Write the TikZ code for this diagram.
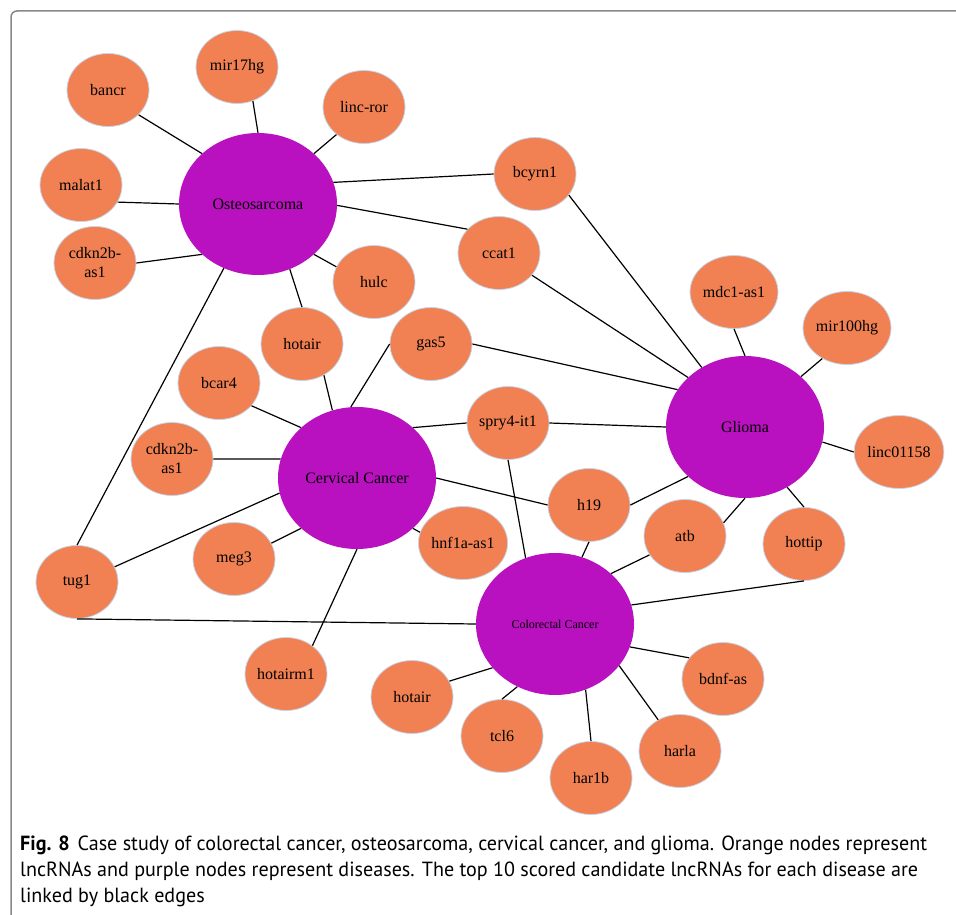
\documentclass[tikz,border=0pt]{standalone}
\usepackage{fontspec}
\setmainfont{Liberation Serif}
\newfontfamily\capfont[FakeStretch=0.98]{PT Sans}
\usetikzlibrary{shapes.geometric}

\definecolor{lncorange}{RGB}{241,128,82}
\definecolor{diseasepurple}{RGB}{185,17,192}
\definecolor{rimblue}{RGB}{198,214,232}
\definecolor{framegray}{RGB}{136,136,136}

\begin{document}
\begin{tikzpicture}[x=1pt, y=-1pt,
    lnc/.style={ellipse, fill=lncorange, draw=rimblue, line width=0.8pt,
        minimum width=82pt, minimum height=73pt, inner sep=0pt, align=center,
        font=\fontsize{16}{19}\selectfont},
    disease/.style={ellipse, fill=diseasepurple, minimum width=158pt,
        minimum height=142pt, inner sep=0pt, font=\fontsize{16}{19}\selectfont},
    link/.style={line width=1.2pt},
    capline/.style={anchor=base west, inner sep=0pt,
        font=\capfont\fontsize{20.5}{24}\selectfont}]

    % Fix the page to the size of the figure
    \clip (0,0) rectangle (956,915);
    \fill[white] (0,0) rectangle (956,915);

    % Draw the frame of the figure
    \draw[framegray, line width=1.5pt, rounded corners=6pt] (11,11) rectangle (980,940);

    % Draw the disease nodes
    \node[disease] (osteo) at (258,204) {Osteosarcoma};
    \node[disease] (cervical) at (357,478) {Cervical Cancer};
    \node[disease] (glioma) at (745,427) {Glioma};
    \node[disease, font=\fontsize{12}{14}\selectfont] (colorectal) at (555,624) {Colorectal Cancer};

    % Draw the lncRNA nodes
    \node[lnc] (bancr) at (108,90) {bancr};
    \node[lnc] (mir17hg) at (237,67) {mir17hg};
    \node[lnc] (lincror) at (364,107) {linc-ror};
    \node[lnc] (malat1) at (81,185) {malat1};
    \node[lnc] (cdkntop) at (95,263) {cdkn2b-\\as1};
    \node[lnc] (hulc) at (374,282) {hulc};
    \node[lnc] (hotairtop) at (302,344) {hotair};
    \node[lnc] (gas5) at (431,344) {gas5};
    \node[lnc] (bcar4) at (219,383) {bcar4};
    \node[lnc] (bcyrn1) at (535,174) {bcyrn1};
    \node[lnc] (ccat1) at (499,253) {ccat1};
    \node[lnc] (mdcas) at (734,292) {mdc1-as1};
    \node[lnc] (mir100hg) at (847,328) {mir100hg};
    \node[lnc] (cdknlow) at (172,459) {cdkn2b-\\as1};
    \node[lnc] (tug1) at (77,582) {tug1};
    \node[lnc] (meg3) at (234,559) {meg3};
    \node[lnc] (hnfas) at (463,543) {hnf1a-as1};
    \node[lnc] (hotairm1) at (286,674) {hotairm1};
    \node[lnc] (hotairlow) at (412,697) {hotair};
    \node[lnc] (spry) at (508,423) {spry4-it1};
    \node[lnc] (linc) at (899,452) {linc01158};
    \node[lnc] (h19) at (589,505) {h19};
    \node[lnc] (atb) at (685,536) {atb};
    \node[lnc] (hottip) at (804,544) {hottip};
    \node[lnc] (bdnfas) at (723,679) {bdnf-as};
    \node[lnc] (tcl6) at (502,736) {tcl6};
    \node[lnc] (har1b) at (591,778) {har1b};
    \node[lnc] (harla) at (680,751) {harla};

    % Osteosarcoma links
    \draw[link] (osteo.138) -- (bancr.-39);
    \draw[link] (osteo.90) -- (mir17hg.-65);
    \draw[link] (osteo.42) -- (lincror.-135);
    \draw[link] (osteo.180) -- (malat1.-25);
    \draw[link] (osteo.222) -- (cdkntop.0);
    \draw[link] (osteo.16) -- (bcyrn1.180);
    \draw[link] (osteo.-1) -- (ccat1.143);
    \draw[link] (osteo.-42) -- (hulc.158);
    \draw[link] (osteo.-64) -- (hotairtop.90);
    \draw[link] (osteo.-118) -- (tug1.90);

    % Cervical cancer links
    \draw[link] (cervical.95) -- (gas5.180);
    \draw[link] (cervical.110) -- (hotairtop.-55);
    \draw[link] (cervical.138) -- (bcar4.-35);
    \draw[link] (cervical.166) -- (cdknlow.0);
    \draw[link] (cervical.191) -- (tug1.22);
    \draw[link] (cervical.222) -- (meg3.23);
    \draw[link] (cervical.42) -- (spry.180);
    \draw[link] (cervical.0) -- (h19.180);
    \draw[link] (cervical.-42) -- (hnfas.166);
    \draw[link] (cervical.-90) -- (hotairm1.47);

    % Glioma links
    \draw[link] (glioma.126) -- (bcyrn1.-32);
    \draw[link] (glioma.139) -- (ccat1.-34);
    \draw[link] (glioma.151) -- (gas5.0);
    \draw[link] (glioma.90) -- (mdcas.-90);
    \draw[link] (glioma.42) -- (mir100hg.-129);
    \draw[link] (glioma.-11) -- (linc.180);
    \draw[link] (glioma.180) -- (spry.0);
    \draw[link] (glioma.221) -- (h19.0);
    \draw[link] (glioma.-90) -- (atb.19);
    \draw[link] (glioma.-55) -- (hottip.90);

    % Colorectal cancer links
    \draw[link] (colorectal.114) -- (spry.-90);
    \draw[link] (colorectal.68) -- (h19.-90);
    \draw[link] (colorectal.42) -- (atb.208);
    \draw[link] (colorectal.14) -- (hottip.-90);
    \draw[link] (colorectal.180) -- (tug1.-90);
    \draw[link] (colorectal.-17) -- (bdnfas.148);
    \draw[link] (colorectal.-33) -- (harla.125);
    \draw[link] (colorectal.-65) -- (har1b.90);
    \draw[link] (colorectal.-121) -- (tcl6.90);
    \draw[link] (colorectal.215) -- (hotairlow.23);

    % Caption
    \node[capline] (cap1) at (20,850) {\textbf{Fig. 8}\hspace{8pt}Case study of colorectal cancer, osteosarcoma, cervical cancer, and glioma. Orange nodes represent};
    \node[capline] (cap2) at (20,876) {lncRNAs and purple nodes represent diseases. The top 10 scored candidate lncRNAs for each disease are};
    \node[capline] (cap3) at (20,902) {linked by black edges};
\end{tikzpicture}
\end{document}
